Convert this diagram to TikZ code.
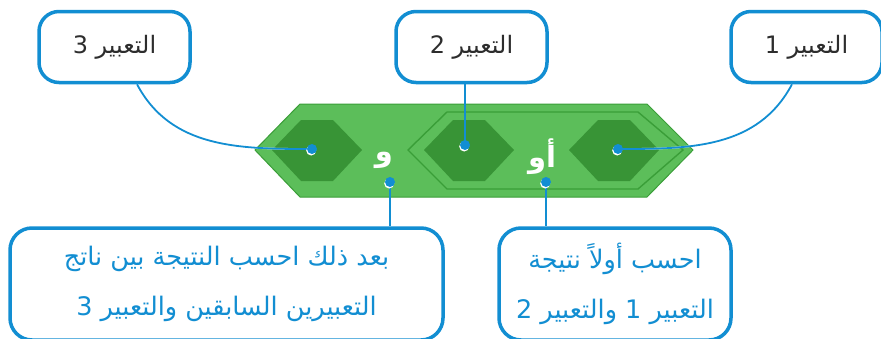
\documentclass[tikz,border=0pt]{standalone}
\usepackage{fontspec}
\newfontfamily\arabicfont[Script=Arabic]{DejaVu Sans}
\TeXXeTstate=1
\definecolor{tblue}{RGB}{18,142,210}
\definecolor{lgreen}{RGB}{92,190,90}
\definecolor{dgreen}{RGB}{56,148,54}
\definecolor{egreen}{RGB}{58,158,56}
\definecolor{tgray}{RGB}{45,45,45}
\begin{document}
\begin{tikzpicture}[x=1pt,y=-1pt,
  tag/.style={draw=tblue,line width=3.5pt,rounded corners=20pt,fill=white,minimum width=151pt,minimum height=71pt,inner sep=0pt,font=\arabicfont\fontsize{24}{28}\selectfont,text=tgray},
  note/.style={draw=tblue,line width=3.5pt,rounded corners=22pt,fill=white,minimum height=112pt,inner sep=0pt,align=center,font=\arabicfont\fontsize{25.5}{50}\selectfont,text=tblue},
  wire/.style={tblue,line width=1.8pt},
  op/.style={text=white,font=\arabicfont\bfseries\fontsize{29}{32}\selectfont}]
\useasboundingbox (0,0) rectangle (881,338);
\fill[lgreen,draw=egreen,line width=1pt] (255,150) -- (300,104) -- (647,104) -- (693,150) -- (647,197) -- (300,197) -- cycle;
\draw[egreen,line width=1.4pt] (408,150) -- (447,112) -- (638,112) -- (683,150) -- (638,189) -- (447,189) -- cycle;
\foreach \c in {317,469,614}\fill[dgreen] (\c-45,150) -- (\c-16,120) -- (\c+16,120) -- (\c+45,150) -- (\c+16,181) -- (\c-16,181) -- cycle;
\node[op] (w) at (384,160) {\beginR و\endR};
\node[op] (aw) at (542,157) {\beginR أو\endR};
\node[tag] (t3) at (114.5,47) {\beginR التعبير 3\endR};
\node[tag] (t2) at (471.5,47) {\beginR التعبير 2\endR};
\node[tag] (t1) at (806.5,47) {\beginR التعبير 1\endR};
\node[note,minimum width=433pt] (b3) at (226.5,284) {\beginR بعد ذلك احسب النتيجة بين ناتج\endR\\\beginR التعبيرين السابقين والتعبير 3\endR};
\node[note,minimum width=232pt] (b1) at (615,284) {\beginR احسب أولاً نتيجة\endR\\\beginR التعبير 1 والتعبير 2\endR};
\coordinate (p3) at (312,149);
\coordinate (p2) at (465,145);
\coordinate (p1) at (618,149);
\coordinate (pw) at (390,182);
\coordinate (paw) at (546,182);
\draw[white,line width=1.8pt,yshift=-1.5pt] ([xshift=22.5pt]t3.south) to[out=-62,in=180] (p3);
\draw[white,line width=1.8pt,yshift=-1.5pt] ([xshift=-14.5pt]t1.south) to[out=-118,in=0] (p1);
\draw[wire] ([xshift=22.5pt]t3.south) to[out=-62,in=180] (p3);
\draw[wire] ([xshift=-14.5pt]t1.south) to[out=-118,in=0] (p1);
\draw[wire] (p2) -- (p2 |- t2.south);
\draw[wire] (pw) -- (pw |- b3.north);
\draw[wire] (paw) -- (paw |- b1.north);
\foreach \p in {p3,p2,p1,pw,paw}{\fill[white] ([shift={(-0.8,1.5)}]\p) circle (5pt); \fill[tblue] (\p) circle (5pt);}
\end{tikzpicture}
\end{document}
